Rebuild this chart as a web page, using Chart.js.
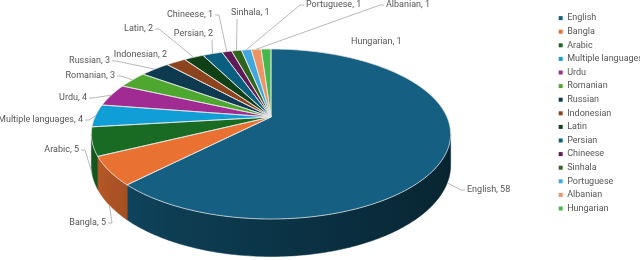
<!DOCTYPE html>
<html><head><meta charset="utf-8">
<script src="https://cdn.jsdelivr.net/npm/chart.js@4.4.1/dist/chart.umd.min.js"></script>
<style>html,body{margin:0;padding:0;background:#fff;overflow:hidden;width:640px;height:260px}
#wrap{width:660px;height:260px;position:relative}</style>
</head><body><div id="wrap"><canvas id="c" width="660" height="260"></canvas></div>
<script>
const categories = ['English','Bangla','Arabic','Multiple languages','Urdu','Romanian','Russian','Indonesian','Latin','Persian','Chineese','Sinhala','Portuguese','Albanian','Hungarian'];
const counts = [58,5,5,4,4,3,3,2,2,2,1,1,1,1,1];
const sliceColors = ['#156082','#E97132','#196B24','#0F9ED5','#A02B93','#4EA72E','#0D3A4E','#8C441E','#0F4016','#095F80','#601A58','#2F641C','#3FA9DD','#EE9462','#45B84A'];

// label placement (layout only): text anchor, alignment, and where the leader line attaches
const labelLayout = [
  {x:467,y:190,align:'left', attach:'left'},
  {x:106,y:223,align:'right',attach:'right'},
  {x:79, y:150,align:'right',attach:'right'},
  {x:83, y:120,align:'right',attach:'right'},
  {x:87, y:98, align:'right',attach:'right'},
  {x:115,y:76, align:'right',attach:'right'},
  {x:110,y:61, align:'right',attach:'right'},
  {x:167,y:55, align:'right',attach:'none'},
  {x:153,y:29, align:'right',attach:'right'},
  {x:213,y:34, align:'right',attach:'below'},
  {x:213,y:15, align:'right',attach:'right'},
  {x:231,y:13, align:'left', attach:'below'},
  {x:306,y:5,  align:'left', attach:'left'},
  {x:386,y:5,  align:'left', attach:'left'},
  {x:351,y:42, align:'left', attach:'none'}
];

const FONT = 'Roboto, "Liberation Sans", sans-serif';
const TXT = '#555555';
const G = { cx:271, cy:117, rx:176, ry:81.6, persp:0.2, depth:30 };

function proj(t){
  const u=Math.cos(t), v=Math.sin(t);
  const w=1/(1-G.persp*v);
  return {x:G.cx+G.rx*u*w, y:G.cy+G.ry*v*w, w:w, v:v};
}
function shade(hex,f){
  const n=parseInt(hex.slice(1),16);
  const r=Math.round(((n>>16)&255)*f), g=Math.round(((n>>8)&255)*f), b=Math.round((n&255)*f);
  return 'rgb('+r+','+g+','+b+')';
}
function sideFactor(t){
  const x=Math.min(Math.max(t,0),Math.PI)/Math.PI;
  return 0.35+0.55*Math.pow(x,1.5);
}

const pie3d = {
  id:'pie3d',
  beforeDatasetsDraw(chart){
    const ctx=chart.ctx;
    const meta=chart.getDatasetMeta(0);
    const arcs=meta.data.map((el,i)=>({s:el.startAngle,e:el.endAngle,color:sliceColors[i],i:i}));
    const step=Math.PI/180;
    const lo=Math.asin(G.persp), hi=Math.PI-Math.asin(G.persp);
    ctx.save();
    // sides: one path per slice, shaded with a horizontal gradient
    arcs.forEach(a=>{
      const s=Math.max(a.s,lo), e=Math.min(a.e,hi);
      if(e<=s) return;
      const n=Math.max(2,Math.ceil((e-s)/step));
      const pts=[];
      for(let k=0;k<=n;k++) pts.push({t:s+(e-s)*k/n, p:proj(s+(e-s)*k/n)});
      const path=new Path2D();
      pts.forEach((q,k)=>{ if(k===0) path.moveTo(q.p.x,q.p.y); else path.lineTo(q.p.x,q.p.y); });
      for(let k=pts.length-1;k>=0;k--){const q=pts[k]; path.lineTo(q.p.x,q.p.y+G.depth*q.p.w);}
      path.closePath();
      const x0=pts[0].p.x, x1=pts[pts.length-1].p.x;
      let fill;
      if(Math.abs(x1-x0)<0.5){ fill=shade(a.color,sideFactor((s+e)/2)); }
      else{
        fill=ctx.createLinearGradient(x0,0,x1,0);
        const m=Math.min(8,pts.length-1);
        for(let k=0;k<=m;k++){
          const q=pts[Math.round(k*(pts.length-1)/m)];
          const off=Math.min(1,Math.max(0,(q.p.x-x0)/(x1-x0)));
          fill.addColorStop(off,shade(a.color,sideFactor(q.t)));
        }
      }
      ctx.fillStyle=fill; ctx.fill(path);
      ctx.strokeStyle=fill; ctx.lineWidth=0.5; ctx.stroke(path);
    });
    // top faces
    const paths=arcs.map(a=>{
      const p=new Path2D();
      p.moveTo(G.cx,G.cy);
      const n=Math.max(2,Math.ceil((a.e-a.s)/step));
      for(let k=0;k<=n;k++){const q=proj(a.s+(a.e-a.s)*k/n); p.lineTo(q.x,q.y);}
      p.closePath();
      return p;
    });
    arcs.forEach((a,i)=>{ctx.fillStyle=a.color; ctx.fill(paths[i]);});
    ctx.strokeStyle='rgba(230,230,230,0.95)'; ctx.lineWidth=0.8; ctx.lineJoin='round';
    paths.forEach(p=>ctx.stroke(p));
    // labels + leaders
    ctx.font='9px '+FONT;
    ctx.textBaseline='middle';
    arcs.forEach((a,i)=>{
      const L=labelLayout[i];
      const text=categories[i]+', '+counts[i];
      const wdt=ctx.measureText(text).width;
      const left=L.align==='left'?L.x:L.x-wdt, right=left+wdt;
      ctx.fillStyle=TXT; ctx.textAlign='left';
      ctx.fillText(text,left,L.y);
      if(L.attach==='none') return;
      const m=(a.s+a.e)/2;
      const r=proj(m);
      let ax=r.x, ay=r.y;
      if(r.v>0.1) ay+=G.depth*r.w;
      ctx.beginPath();
      if(L.attach==='right'){ctx.moveTo(right+2,L.y); ctx.lineTo(right+6,L.y);}
      else if(L.attach==='left'){ctx.moveTo(left-2,L.y); ctx.lineTo(left-6,L.y);}
      else { const bx=L.align==='left'?left+6:right-1; ctx.moveTo(bx,L.y+6); }
      ctx.lineTo(ax,ay);
      ctx.strokeStyle='#a6a6a6'; ctx.lineWidth=0.8; ctx.stroke();
    });
    ctx.restore();
    return false;
  }
};

new Chart(document.getElementById('c'),{
  type:'pie',
  data:{labels:categories,datasets:[{data:counts,backgroundColor:sliceColors,borderWidth:0}]},
  options:{
    responsive:false, animation:false,
    layout:{padding:{top:9,right:7}},
    plugins:{
      tooltip:{enabled:false},
      legend:{position:'right',align:'start',
        labels:{boxWidth:4,boxHeight:4,padding:4.6,color:TXT,font:{family:FONT,size:9}}}
    }
  },
  plugins:[pie3d]
});
</script></body></html>
